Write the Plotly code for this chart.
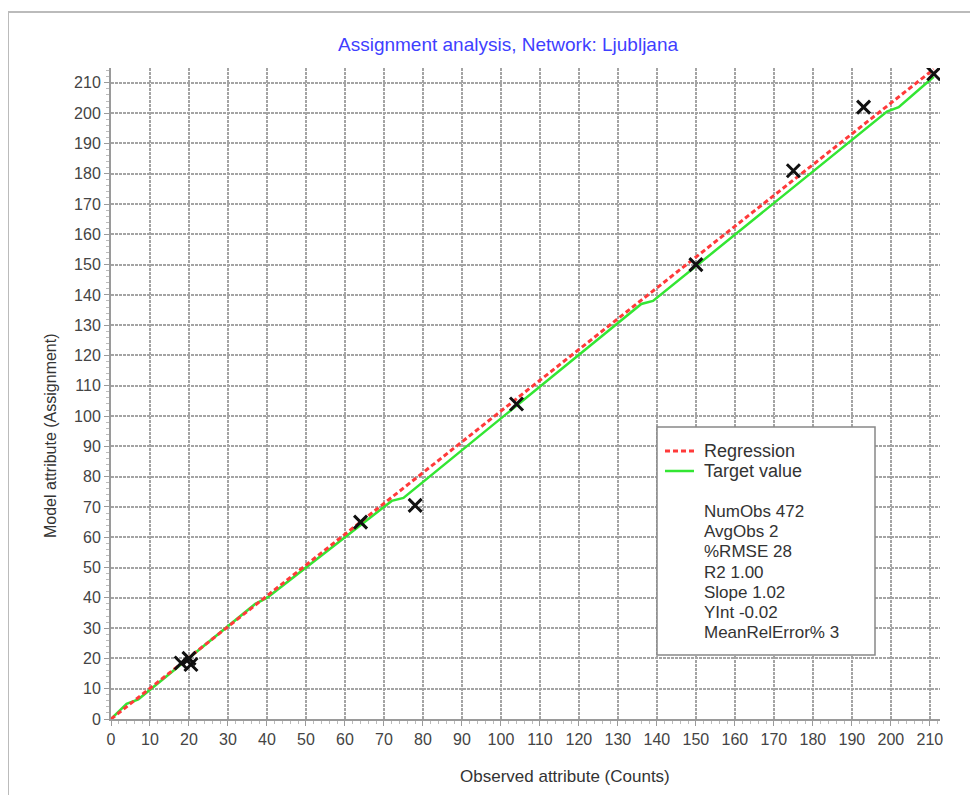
import plotly.graph_objects as go

# ---- data ----
obs_x = [18, 20, 20.5, 64, 78, 104, 150, 175, 193, 211]
obs_y = [18.5, 20, 18, 65, 70.5, 104, 150, 181, 202, 213]

target_x = [0, 4, 7, 37, 40, 72, 75, 136, 139, 199, 202, 211]
target_y = [0, 5, 6.5, 38, 40, 72, 73, 137, 138, 200.5, 202, 212]

reg_x = [0, 211]
reg_y = [-0.02, 214.5]

legend_names = ["Regression", "Target value"]
stats_lines = ["NumObs 472", "AvgObs 2", "%RMSE 28", "R2 1.00", "Slope 1.02", "YInt -0.02", "MeanRelError% 3"]
tick_vals = list(range(0, 211, 10))

title_text = "Assignment analysis, Network: Ljubljana"
x_title = "Observed attribute (Counts)"
y_title = "Model attribute (Assignment)"

FONT = "Liberation Sans, Arial, sans-serif"

# page offset (body margin) and plot area in page pixels
OFF = 8
W, H = 978 - OFF, 795 - OFF
PL, PR, PT, PB = 111, 940, 68, 719          # page pixel bounds of plot area
L, R, T, B = PL - OFF, PR - OFF, PT - OFF, PB - OFF


def px(x):
    return (x - PL) / (PR - PL)


def py(y):
    return (PB - y) / (PB - PT)


RED = "#ff3a3a"
GREEN = "#33e633"

fig = go.Figure()
fig.add_trace(go.Scatter(x=target_x, y=target_y, mode="lines", name=legend_names[1],
                         line=dict(color=GREEN, width=2.5), showlegend=False))
fig.add_trace(go.Scatter(x=reg_x, y=reg_y, mode="lines", name=legend_names[0],
                         line=dict(color=RED, width=3, dash="5px,3px"), showlegend=False))
fig.add_trace(go.Scatter(x=obs_x, y=obs_y, mode="markers", showlegend=False, name="Observations",
                         marker=dict(symbol="x-thin", size=13, line=dict(color="#111111", width=3))))

axis_common = dict(
    tickvals=tick_vals, showgrid=True, gridcolor="#a4a4a4", gridwidth=2, griddash="3px,1px",
    zeroline=False, showline=True, linecolor="#9a9a9a", linewidth=2,
    ticks="outside", ticklen=5, tickcolor="#9a9a9a", tickwidth=1,
    tickfont=dict(family=FONT, size=16, color="#444444"),
    minor=dict(dtick=2, ticks="outside", ticklen=3, tickcolor="#bbbbbb", showgrid=False),
)
fig.update_xaxes(range=[0, 212.6], **axis_common)
fig.update_yaxes(range=[0, 214.9], **axis_common)

annotations = [
    dict(text=title_text, x=px(508), y=py(45), xref="paper", yref="paper", showarrow=False,
         font=dict(family=FONT, size=19, color="#3f3fff"), xanchor="center", yanchor="middle"),
    dict(text=x_title, x=px(565), y=py(776), xref="paper", yref="paper", showarrow=False,
         font=dict(family=FONT, size=17, color="#333333"), xanchor="center", yanchor="middle"),
    dict(text=y_title, x=px(50), y=py(435), xref="paper", yref="paper", showarrow=False, textangle=-90,
         font=dict(family=FONT, size=16, color="#333333"), xanchor="center", yanchor="middle"),
]

# legend entries (drawn manually to match the compact spacing)
legend_y = [451, 471]
for name, yy in zip(legend_names, legend_y):
    annotations.append(dict(text=name, x=px(702), y=py(yy), xref="paper", yref="paper", showarrow=False,
                            font=dict(family=FONT, size=18, color="#333333"), xanchor="left", yanchor="middle"))

stats_y = [511, 531, 551, 572, 592, 612, 632]
for line, yy in zip(stats_lines, stats_y):
    annotations.append(dict(text=line, x=px(702), y=py(yy), xref="paper", yref="paper", showarrow=False,
                            font=dict(family=FONT, size=17, color="#333333"), xanchor="left", yanchor="middle"))

shapes = [
    dict(type="rect", xref="paper", yref="paper", x0=px(8), x1=px(975), y0=py(805), y1=py(12),
         line=dict(color="#bbbbbb", width=2), fillcolor="rgba(0,0,0,0)", layer="below"),
    dict(type="rect", xref="paper", yref="paper", x0=px(657), x1=px(875), y0=py(655), y1=py(427),
         line=dict(color="#888888", width=1.5), fillcolor="white", layer="above"),
    dict(type="line", xref="paper", yref="paper", x0=px(665), x1=px(694), y0=py(451), y1=py(451),
         line=dict(color=RED, width=3, dash="5px,3px"), layer="above"),
    dict(type="line", xref="paper", yref="paper", x0=px(665), x1=px(694), y0=py(471), y1=py(471),
         line=dict(color=GREEN, width=2.5), layer="above"),
]

fig.update_layout(
    width=W, height=H,
    margin=dict(l=L, r=W - R, t=T, b=H - B, autoexpand=False),
    paper_bgcolor="white", plot_bgcolor="white",
    annotations=annotations, shapes=shapes,
    showlegend=False,
)

fig.write_html("out.html")
